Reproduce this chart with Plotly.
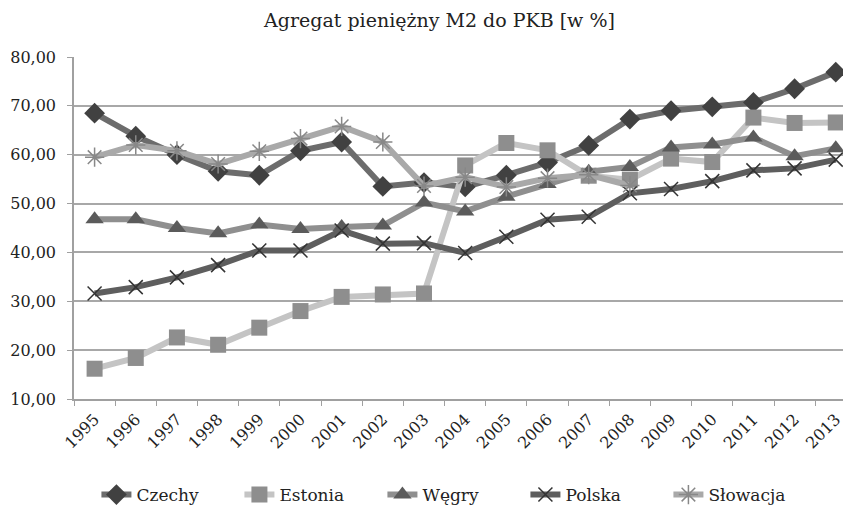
import plotly.graph_objects as go

years = [str(y) for y in range(1995, 2014)]

czechy = [68.5, 63.8, 60.0, 56.6, 55.8, 60.8, 62.6, 53.5, 54.3, 53.4, 55.8, 58.4, 61.9, 67.3, 69.0, 69.8, 70.7, 73.5, 76.9]
estonia = [16.2, 18.4, 22.6, 21.1, 24.6, 28.0, 30.9, 31.4, 31.6, 57.8, 62.4, 60.9, 55.7, 54.9, 59.2, 58.5, 67.6, 66.5, 66.6]
wegry = [46.8, 46.8, 45.0, 43.9, 45.7, 44.8, 45.2, 45.5, 50.2, 48.4, 51.4, 54.0, 56.5, 57.5, 61.5, 62.1, 63.5, 59.7, 61.3]
polska = [31.6, 32.9, 34.9, 37.4, 40.4, 40.4, 44.5, 41.8, 41.9, 39.9, 43.2, 46.7, 47.3, 52.1, 53.0, 54.6, 56.8, 57.2, 59.0]
slowacja = [59.5, 62.0, 60.8, 58.1, 60.7, 63.3, 65.8, 62.6, 53.6, 55.4, 53.4, 55.2, 55.9, 53.7]

FONT = "DejaVu Serif"

fig = go.Figure()

fig.add_trace(go.Scatter(
    x=years, y=czechy, name="Czechy", mode="lines+markers",
    line=dict(color="#6c6c6c", width=6),
    marker=dict(symbol="diamond", size=16, color="#414141"),
))
fig.add_trace(go.Scatter(
    x=years, y=estonia, name="Estonia", mode="lines+markers",
    line=dict(color="#c4c4c4", width=6),
    marker=dict(symbol="square", size=16, color="#8e8e8e"),
))
fig.add_trace(go.Scatter(
    x=years, y=wegry, name="Węgry", mode="lines+markers",
    line=dict(color="#8f8f8f", width=6),
    marker=dict(symbol="triangle-up", size=16, color="#5b5b5b"),
))
fig.add_trace(go.Scatter(
    x=years, y=polska, name="Polska", mode="lines+markers",
    line=dict(color="#5e5e5e", width=6),
    marker=dict(symbol="x-thin", size=14, color="#333333",
                line=dict(color="#333333", width=1.5)),
))
fig.add_trace(go.Scatter(
    x=years[:len(slowacja)], y=slowacja, name="Słowacja", mode="lines+markers",
    line=dict(color="#a9a9a9", width=6),
    marker=dict(symbol="asterisk", size=16, color="#888888",
                line=dict(color="#888888", width=1.5)),
))

fig.update_layout(
    width=851, height=506,
    paper_bgcolor="white", plot_bgcolor="white",
    margin=dict(l=66, r=8, t=49, b=115),
    separators=",.",
    font=dict(family=FONT, size=15, color="#222222"),
    title=dict(text="Agregat pieniężny M2 do PKB [w %]", x=0.507, xanchor="center",
               y=0.976, yanchor="middle", font=dict(family=FONT, size=19, color="#222222")),
    legend=dict(orientation="h", xref="container", x=0.524, xanchor="center",
                yref="container", y=0.0375, yanchor="middle",
                font=dict(family=FONT, size=17, color="#222222"), entrywidth=98,
                tracegroupgap=0),
    showlegend=True,
)
fig.update_xaxes(
    type="category", range=[-0.5, 18.37], tickson="boundaries", automargin=False,
    ticks="outside", ticklen=5, tickcolor="#a0a0a0", ticklabelstandoff=3,
    showline=True, linecolor="#a0a0a0", linewidth=1.5,
    showgrid=False, tickangle=-45,
    tickfont=dict(family=FONT, size=16, color="#222222"),
)
fig.update_yaxes(
    range=[10, 80], dtick=10, tickformat=".2f", automargin=False,
    ticks="outside", ticklen=5, tickcolor="#a0a0a0", ticklabelstandoff=8,
    showline=True, linecolor="#a0a0a0", linewidth=1.5,
    showgrid=True, gridcolor="#a8a8a8", gridwidth=1.5,
    zeroline=False,
    tickfont=dict(family=FONT, size=16, color="#222222"),
)

fig.write_html("out.html")
